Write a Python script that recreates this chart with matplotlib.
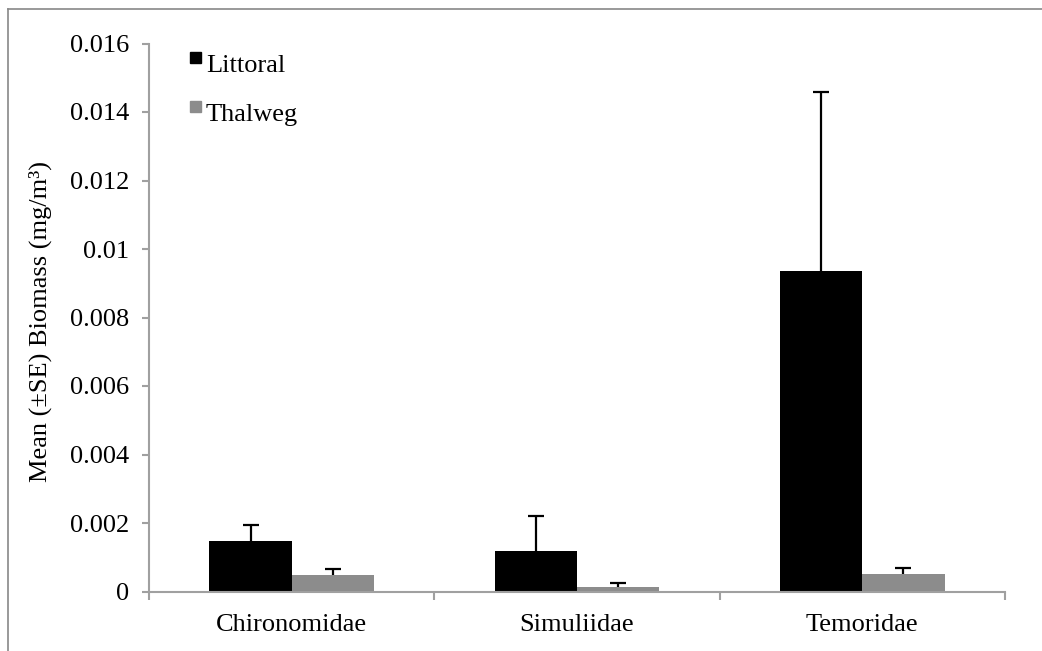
import matplotlib
matplotlib.use("Agg")
import matplotlib.pyplot as plt
from matplotlib.lines import Line2D
from matplotlib.patches import Rectangle
from matplotlib.ticker import FixedLocator, FuncFormatter
import numpy as np

# Data
families = ["Chironomidae", "Simuliidae", "Temoridae"]
series_names = ["Littoral", "Thalweg"]
littoral_mean = [0.00148, 0.00119, 0.00937]
littoral_se = [0.00047, 0.00101, 0.00521]
thalweg_mean = [0.00048, 0.00014, 0.00051]
thalweg_se = [0.00018, 0.00011, 0.00017]
y_ticks = [0, 0.002, 0.004, 0.006, 0.008, 0.01, 0.012, 0.014, 0.016]

colors = ["#000000", "#8c8c8c"]
axis_grey = "#a0a0a0"
plt.rcParams["font.family"] = ["Liberation Serif", "DejaVu Serif"]
fs = 19

W, H = 1042, 651
fig = plt.figure(figsize=(W / 100, H / 100), dpi=100)
ax = fig.add_axes([149 / W, 1 - 591.5 / H, (1005 - 149) / W, (591.5 - 43.5) / H])

x = np.arange(len(families))
bw = 0.288
means = [littoral_mean, thalweg_mean]
ses = [littoral_se, thalweg_se]
for i in range(2):
    pos = x + (i - 0.5) * bw
    ax.bar(pos, means[i], width=bw, color=colors[i], edgecolor="none", zorder=2)
    _, caps, _ = ax.errorbar(pos, means[i],
                             yerr=[np.zeros(len(families)), ses[i]],
                             fmt="none", ecolor="black", elinewidth=1.6,
                             capsize=6, capthick=1.6, zorder=3)
    # only the upper whisker carries a cap
    caps[0].set_visible(False)

ax.set_xlim(-0.5, len(families) - 0.5)
ax.set_ylim(0, 0.016)

for side in ["top", "right"]:
    ax.spines[side].set_visible(False)
for side in ["left", "bottom"]:
    ax.spines[side].set_color(axis_grey)
    ax.spines[side].set_linewidth(1.5)

ax.yaxis.set_major_locator(FixedLocator(y_ticks))
ax.yaxis.set_major_formatter(FuncFormatter(lambda v, p: f"{v:g}"))
ax.tick_params(axis="y", direction="out", length=5, width=1.5, color=axis_grey,
               labelsize=fs, pad=9)

ax.set_xticks(x)
ax.set_xticklabels(families)
ax.set_xticks(np.arange(len(families) + 1) - 0.5, minor=True)
ax.tick_params(axis="x", which="major", length=0, labelsize=fs, pad=16)
ax.tick_params(axis="x", which="minor", direction="out", length=6, width=1.5,
               color=axis_grey)

fig.text(40 / W, 1 - 322 / H, "Mean (±SE) Biomass (mg/m³)", rotation=90,
         ha="center", va="center", fontsize=fs)

# Legend
leg_rows = [57, 106]
for name, col, yc in zip(series_names, colors, leg_rows):
    fig.patches.append(Rectangle((190 / W, 1 - (yc + 6) / H), 11 / W, 11 / H,
                                 transform=fig.transFigure, color=col,
                                 figure=fig))
    fig.text(206 / W, 1 - (yc + 15) / H, name, fontsize=fs, ha="left",
             va="baseline")

# Frame lines
fig.add_artist(Line2D([8 / W, 8 / W], [0, 1 - 9 / H], color="#888888",
                      linewidth=1.2, transform=fig.transFigure))
fig.add_artist(Line2D([8 / W, 1], [1 - 9 / H, 1 - 9 / H], color="#888888",
                      linewidth=1.2, transform=fig.transFigure))

fig.savefig("out.png", dpi=100, facecolor="white")
